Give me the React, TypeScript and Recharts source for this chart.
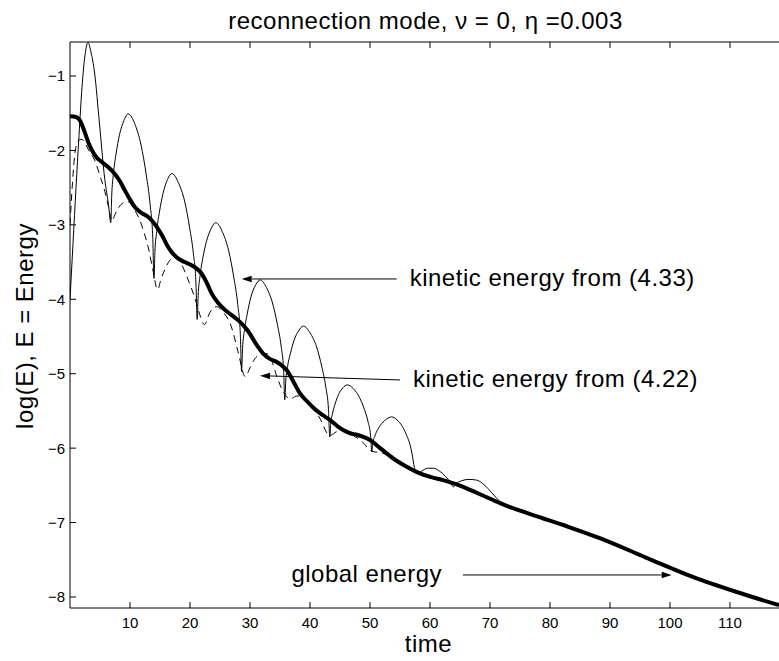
import { LineChart, Line, XAxis, YAxis, ReferenceLine } from 'recharts';

const FONT = '"Liberation Sans", Arial, Helvetica, sans-serif';

const X_DOMAIN: [number, number] = [0, 118.17];
const Y_DOMAIN: [number, number] = [-8.148, -0.543];
const X_TICKS = [10, 20, 30, 40, 50, 60, 70, 80, 90, 100, 110];
const Y_TICKS = [-8, -7, -6, -5, -4, -3, -2, -1];

// kinetic energy from (4.33) -- thin solid
const kin433Time = [
  0, 0.5, 1.0, 1.5, 2.0, 2.5, 3.0, 3.5, 4.1, 4.9, 5.8, 6.4, 6.8,
  6.95, 7.24, 7.67, 8.25, 8.98, 9.7, 10.78, 11.85, 12.71, 13.36, 13.79, 14.0,
  14.15, 14.45, 14.9, 15.5, 16.25, 17.0, 18.05, 19.1, 19.94, 20.57, 20.99, 21.2,
  21.36, 21.67, 22.13, 22.75, 23.53, 24.3, 25.38, 26.45, 27.31, 27.96, 28.39, 28.6,
  28.76, 29.07, 29.53, 30.15, 30.93, 31.7, 32.73, 33.75, 34.57, 35.19, 35.6, 35.8,
  35.96, 36.27, 36.73, 37.35, 38.13, 38.9, 40.0, 41.1, 41.98, 42.64, 43.08, 43.3,
  43.45, 43.74, 44.17, 44.75, 45.48, 46.2, 47.23, 48.25, 49.07, 49.69, 50.1, 50.3,
  50.47, 50.8, 51.29, 51.95, 52.78, 53.6, 54.5, 55.4, 56.12, 56.66, 57.02, 57.4,
  57.8, 58.6, 59.6, 60.6, 61.6, 62.6, 63.4, 63.9, 64.3, 65.2, 66.5, 67.8, 69.0,
  70.3, 71.7, 77.2, 80.5, 82.5, 84.5, 88.3, 96.0, 103.8, 111.0, 118.17,
];
const kin433Log = [
  -4.0, -3.25, -2.5, -1.8, -1.15, -0.72, -0.55, -0.68, -0.96, -1.63, -2.39, -2.72, -2.97,
  -2.61, -2.31, -2.05, -1.79, -1.6, -1.51, -1.64, -1.93, -2.33, -2.73, -3.17, -3.72,
  -3.37, -3.09, -2.83, -2.58, -2.39, -2.31, -2.43, -2.68, -3.04, -3.39, -3.78, -4.27,
  -3.95, -3.69, -3.45, -3.22, -3.05, -2.97, -3.09, -3.35, -3.71, -4.07, -4.47, -4.97,
  -4.66, -4.42, -4.2, -3.97, -3.81, -3.74, -3.84, -4.05, -4.34, -4.63, -4.95, -5.35,
  -5.1, -4.9, -4.73, -4.55, -4.42, -4.36, -4.45, -4.64, -4.91, -5.18, -5.48, -5.85,
  -5.68, -5.54, -5.41, -5.28, -5.19, -5.15, -5.2, -5.32, -5.48, -5.65, -5.83, -6.05,
  -5.93, -5.84, -5.75, -5.67, -5.61, -5.58, -5.62, -5.71, -5.83, -5.95, -6.08, -6.26,
  -6.34, -6.31, -6.27, -6.27, -6.31, -6.38, -6.46, -6.52, -6.48, -6.44, -6.42, -6.43, -6.49,
  -6.6, -6.72, -6.9, -6.99, -7.02, -7.1, -7.21, -7.47, -7.73, -7.93, -8.11,
];

// kinetic energy from (4.22) -- dashed
const kin422Time = [
  0, 0.4, 0.8, 1.3, 1.8, 2.4, 3.0, 4.1, 5.2, 5.8, 6.4, 7.0, 7.5, 8.0, 9.0, 9.7,
  10.6, 11.6, 12.4, 13.0, 13.8, 14.6, 15.2, 15.8, 16.6, 17.4, 18.5, 19.7, 20.8,
  21.6, 22.4, 23.3, 24.4, 25.6, 26.9, 28.0, 29.2, 30.0, 30.8, 31.8, 32.8, 33.6,
  34.4, 35.6, 36.7, 37.8, 38.6, 39.8, 41.5, 43.3, 44.4, 45.6, 47.0, 48.5, 50.3,
  52.2, 53.9, 55.9, 58.3, 62.2, 66.1, 71.7, 77.2, 82.8, 88.3, 96.0, 103.8, 111.0, 118.17,
];
const kin422Log = [
  -3.0, -2.45, -2.05, -1.88, -1.85, -1.88, -1.98, -2.13, -2.39, -2.55, -2.75, -2.95, -2.86, -2.78, -2.7, -2.69,
  -2.78, -2.93, -3.12, -3.29, -3.6, -3.87, -3.72, -3.6, -3.48, -3.43, -3.52, -3.74, -3.98,
  -4.2, -4.34, -4.18, -4.1, -4.18, -4.37, -4.7, -5.04, -4.92, -4.8, -4.74, -4.73, -4.82,
  -5.02, -5.25, -5.34, -5.3, -5.3, -5.4, -5.58, -5.83, -5.78, -5.76, -5.82, -5.9, -6.04,
  -6.07, -6.14, -6.24, -6.34, -6.43, -6.54, -6.74, -6.9, -7.05, -7.21, -7.47, -7.73, -7.93, -8.11,
];

// global energy -- thick
const globalTime = [
  0, 1.0, 1.6, 2.3, 3.0, 3.6, 4.4, 5.2, 6.3, 7.4, 8.3, 9.1, 10.0, 10.8, 11.9, 13.0,
  14.4, 15.4, 16.3, 17.2, 18.0, 19.1, 20.2, 21.0, 21.9, 22.8, 23.6, 24.7, 25.8, 26.9,
  28.0, 29.0, 29.7, 31.0, 32.2, 33.3, 34.4, 35.3, 36.1, 37.2, 38.3, 39.5, 40.6, 42.0,
  43.3, 44.5, 45.6, 46.7, 47.8, 48.9, 50.0, 51.7, 53.9, 55.9, 58.3, 60.2, 62.2, 64.2,
  66.1, 68.9, 71.7, 77.2, 82.8, 88.3, 96.0, 103.8, 111.0, 118.17,
];
const globalLog = [
  -1.54, -1.55, -1.59, -1.72, -1.88, -1.99, -2.09, -2.15, -2.22, -2.31, -2.41, -2.53, -2.66, -2.76, -2.84, -2.89,
  -3.02, -3.15, -3.29, -3.39, -3.45, -3.5, -3.54, -3.58, -3.65, -3.78, -3.92, -4.05, -4.14, -4.21,
  -4.28, -4.36, -4.43, -4.6, -4.73, -4.8, -4.84, -4.89, -4.95, -5.1, -5.26, -5.37, -5.46, -5.55,
  -5.62, -5.7, -5.76, -5.8, -5.82, -5.85, -5.89, -6.0, -6.14, -6.24, -6.34, -6.39, -6.43, -6.48,
  -6.54, -6.64, -6.74, -6.9, -7.05, -7.21, -7.47, -7.73, -7.93, -8.11,
];

// arrows: tail and tip in (time, log E)
const notes = [
  { label: 'kinetic energy from (4.33)', tail: [54.45, -3.727], tip: [28.62, -3.727], side: 'right' },
  { label: 'kinetic energy from (4.22)', tail: [55.0, -5.084], tip: [31.67, -5.026], side: 'right' },
  { label: 'global energy', tail: [65.5, -7.704], tip: [100.28, -7.704], side: 'left' },
];

const toPoints = (t: number[], v: number[]) => t.map((x, i) => ({ t: x, v: v[i] }));

const kin433 = toPoints(kin433Time, kin433Log);
const kin422 = toPoints(kin422Time, kin422Log);
const globalE = toPoints(globalTime, globalLog);

const fmt = (v: number) => (v < 0 ? '\u2212' + Math.abs(v) : String(v));

function BottomTick(props: any) {
  const { x, y, payload } = props;
  return (
    <g>
      <line x1={x} y1={y} x2={x} y2={y - 6} stroke="#000" />
      <text x={x} y={y + 9} dy="0.71em" textAnchor="middle" fontSize={15} fontFamily={FONT} fill="#000">
        {fmt(payload.value)}
      </text>
    </g>
  );
}

function TopTick(props: any) {
  const { x, y } = props;
  return <line x1={x} y1={y} x2={x} y2={y + 6} stroke="#000" />;
}

function LeftTick(props: any) {
  const { x, y, payload } = props;
  return (
    <g>
      <line x1={x} y1={y} x2={x + 6} y2={y} stroke="#000" />
      <text x={x - 5} y={y} dy="0.36em" textAnchor="end" fontSize={15} fontFamily={FONT} fill="#000">
        {fmt(payload.value)}
      </text>
    </g>
  );
}

function Arrow(props: any) {
  const { x1, y1, x2, y2, label, side } = props;
  const len = Math.hypot(x2 - x1, y2 - y1) || 1;
  const ux = (x2 - x1) / len;
  const uy = (y2 - y1) / len;
  const bx = x2 - ux * 10;
  const by = y2 - uy * 10;
  const head = `${x2},${y2} ${bx - uy * 3.3},${by + ux * 3.3} ${bx + uy * 3.3},${by - ux * 3.3}`;
  return (
    <g>
      <line x1={x1} y1={y1} x2={bx} y2={by} stroke="#000" strokeWidth={1} />
      <polygon points={head} fill="#000" />
      <text
        x={side === 'right' ? x1 + 13 : x1 - 21}
        y={y1 + 7}
        textAnchor={side === 'right' ? 'start' : 'end'}
        fontSize={24}
        letterSpacing={0.5}
        fontFamily={FONT}
        fill="#000"
      >
        {label}
      </text>
    </g>
  );
}

export default function App() {
  return (
    <div
      style={{
        position: 'fixed',
        left: 0,
        top: 0,
        width: 779,
        height: 661,
        overflow: 'hidden',
        background: '#fff',
        fontFamily: FONT,
      }}
    >
      <LineChart width={779} height={661} margin={{ top: 30, right: 0, bottom: 0, left: 0 }}>
        <XAxis
          dataKey="t"
          type="number"
          domain={X_DOMAIN}
          ticks={X_TICKS}
          interval={0}
          height={53}
          tickSize={0}
          tickMargin={0}
          tickLine={false}
          axisLine={{ stroke: '#000' }}
          tick={BottomTick}
          allowDataOverflow
        />
        <XAxis
          xAxisId="top"
          orientation="top"
          dataKey="t"
          type="number"
          domain={X_DOMAIN}
          ticks={X_TICKS}
          interval={0}
          height={12}
          tickSize={0}
          tickMargin={0}
          tickLine={false}
          axisLine={{ stroke: '#000' }}
          tick={TopTick}
          allowDataOverflow
        />
        <YAxis
          type="number"
          domain={Y_DOMAIN}
          ticks={Y_TICKS}
          interval={0}
          width={70}
          tickSize={0}
          tickMargin={0}
          tickLine={false}
          axisLine={{ stroke: '#000' }}
          tick={LeftTick}
          allowDataOverflow
        />
        <Line
          data={kin433}
          dataKey="v"
          type="monotone"
          stroke="#000"
          strokeWidth={1}
          dot={false}
          activeDot={false}
          isAnimationActive={false}
        />
        <Line
          data={kin422}
          dataKey="v"
          type="monotone"
          stroke="#000"
          strokeWidth={1}
          strokeDasharray="7 5"
          dot={false}
          activeDot={false}
          isAnimationActive={false}
        />
        <Line
          data={globalE}
          dataKey="v"
          type="monotone"
          stroke="#000"
          strokeWidth={4}
          dot={false}
          activeDot={false}
          isAnimationActive={false}
        />
        {notes.map((n) => (
          <ReferenceLine
            key={n.label}
            segment={[
              { x: n.tail[0], y: n.tail[1] },
              { x: n.tip[0], y: n.tip[1] },
            ]}
            ifOverflow="visible"
            stroke="#000"
            shape={(p: any) => <Arrow {...p} label={n.label} side={n.side} />}
          />
        ))}
      </LineChart>
      <svg
        width={779}
        height={661}
        style={{ position: 'absolute', left: 0, top: 0, pointerEvents: 'none' }}
      >
        <text x={425.5} y={29} textAnchor="middle" fontSize={24} letterSpacing={0.5} fontFamily={FONT} fill="#000">
          reconnection mode, ν = 0, η =0.003
        </text>
        <text
          transform="translate(33,326) rotate(-90)"
          textAnchor="middle"
          fontSize={24}
          letterSpacing={0.5}
          fontFamily={FONT}
          fill="#000"
        >
          log(E), E = Energy
        </text>
        <text x={428.5} y={652} textAnchor="middle" fontSize={24} letterSpacing={0.5} fontFamily={FONT} fill="#000">
          time
        </text>
      </svg>
    </div>
  );
}
